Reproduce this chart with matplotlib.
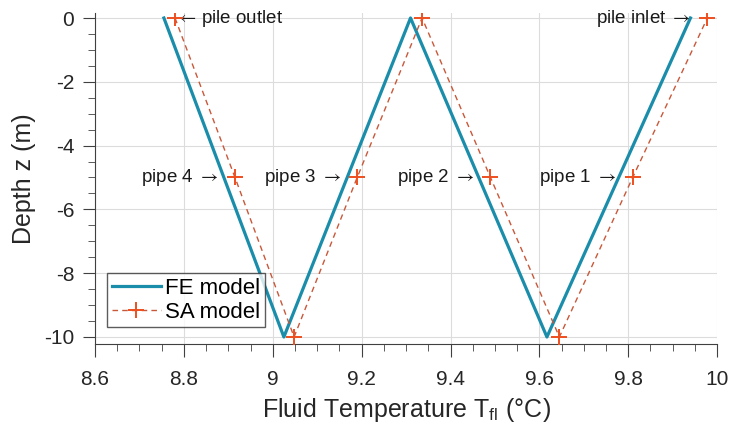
import matplotlib.pyplot as plt
from matplotlib.ticker import MultipleLocator

plt.rcParams['font.family'] = ['Liberation Sans', 'DejaVu Sans']
plt.rcParams['mathtext.fontset'] = 'stix'

# FE model (pipe turning points)
fe_temp = [8.755, 9.025, 9.31, 9.617, 9.94]
fe_depth = [0, -10, 0, -10, 0]

# SA model (marked nodes)
sa_temp = [8.78, 8.915, 9.048, 9.19, 9.336, 9.49, 9.645, 9.81, 9.978]
sa_depth = [0, -5, -10, -5, 0, -5, -10, -5, 0]

# labels: (text, temp, depth, side)
labels = [('$\\leftarrow\\,$pile outlet', 8.78, 0, 'right'),
          ('pipe 4 $\\rightarrow$', 8.915, -5, 'left'),
          ('pipe 3 $\\rightarrow$', 9.19, -5, 'left'),
          ('pipe 2 $\\rightarrow$', 9.49, -5, 'left'),
          ('pipe 1 $\\rightarrow$', 9.81, -5, 'left'),
          ('pile inlet $\\rightarrow$', 9.978, 0, 'left')]

fig = plt.figure(figsize=(7.31, 4.30), dpi=100)
ax = fig.add_axes([0.130, 0.200, 0.851, 0.770])

ax.plot(fe_temp, fe_depth, color='#1a8dab', lw=2.3, label='FE model', zorder=3)
ax.plot(sa_temp, sa_depth, color='#c9583a', lw=1.0, ls=(0, (4, 3)),
        marker='+', ms=11, mew=1.4, mec='#ee4f1f', label='SA model', zorder=4)

for txt, t, d, side in labels:
    if side == 'right':
        ax.annotate(txt, (t, d), xytext=(1, 0), textcoords='offset points',
                    ha='left', va='center', fontsize=13.5, color='#1a1a1a')
    else:
        ax.annotate(txt, (t, d), xytext=(-12, 0), textcoords='offset points',
                    ha='right', va='center', fontsize=13.5, color='#1a1a1a')

ax.set_xlim(8.6, 10)
ax.set_ylim(-10.22, 0.16)
ax.xaxis.set_minor_locator(MultipleLocator(0.05))
ax.yaxis.set_minor_locator(MultipleLocator(0.5))
ax.set_xticks([8.6, 8.8, 9.0, 9.2, 9.4, 9.6, 9.8, 10.0])
ax.set_xticklabels(['8.6', '8.8', '9', '9.2', '9.4', '9.6', '9.8', '10'])
ax.set_yticks([0, -2, -4, -6, -8, -10])
ax.set_yticklabels(['0', '-2', '-4', '-6', '-8', '-10'])

ax.grid(True, which='major', color='#dcdcdc', lw=0.8)
ax.set_axisbelow(True)
for s in ['top', 'right']:
    ax.spines[s].set_visible(False)
for s in ['left', 'bottom']:
    ax.spines[s].set_color('#404040')
ax.tick_params(which='major', direction='out', length=9, width=0.8,
               colors='#404040', labelsize=15, labelcolor='#262626')
ax.tick_params(axis='x', which='major', pad=10)
ax.tick_params(axis='y', which='major', pad=6)
ax.tick_params(which='minor', direction='out', length=5, width=0.6, colors='#404040')

ax.set_xlabel('Fluid Temperature T$_\\mathregular{fl}$ (\u00b0C)', fontsize=18,
              color='#262626', labelpad=5)
ax.set_ylabel('Depth z (m)', fontsize=18, color='#262626', labelpad=6)

ax.legend(loc='lower left', bbox_to_anchor=(0.02, 0.05), fontsize=16,
          frameon=True, fancybox=False, edgecolor='#333333', handlelength=2.2,
          borderpad=0.2, labelspacing=0.15, handletextpad=0.2, borderaxespad=0)

fig.savefig('out.png', dpi=100)
